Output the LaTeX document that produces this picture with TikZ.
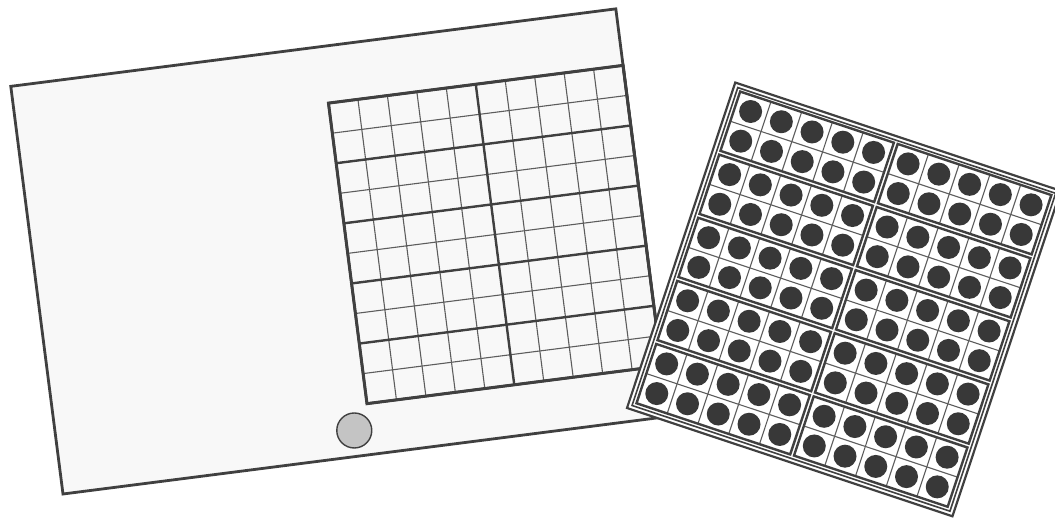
\documentclass[tikz,border=0pt]{standalone}
\usepackage{tikz}
\definecolor{cardwhite}{RGB}{248,248,248}
\definecolor{inkgrey}{RGB}{64,64,64}
\definecolor{dotgrey}{RGB}{56,56,56}
\definecolor{chipgrey}{RGB}{196,196,196}

\begin{document}
\begin{tikzpicture}[x=1pt, y=1pt,
    card/.style={fill=cardwhite, draw=inkgrey, line width=2.8pt},
    thinline/.style={draw=inkgrey!85, line width=1.1pt},
    frameline/.style={draw=inkgrey, line width=2.4pt},
    dot/.style={circle, fill=dotgrey, inner sep=0pt, minimum size=23pt}]

\useasboundingbox (0,0) rectangle (1055,-519);
\clip (0,0) rectangle (1055,-519);

% The empty work card with its ten by ten grid
\begin{scope}[shift={(63,-494)}, rotate=7.3]
  \draw[card] (0,0) rectangle (610,411);
  % thin cell lines
  \foreach \i in {1,...,9} {
    \draw[thinline] (313+\i*29.7, 51) -- (313+\i*29.7, 354);
    \draw[thinline] (313, 51+\i*30.3) -- (610, 51+\i*30.3);
  }
  % heavier lines round each ten-frame
  \foreach \j in {0,2,4,6,8,10}
    \draw[frameline] (313, 51+\j*30.3) -- (610, 51+\j*30.3);
  \foreach \i in {0,5,10}
    \draw[frameline] (313+\i*29.7, 51) -- (313+\i*29.7, 354);
  \draw[frameline, line width=3pt] (313,51) rectangle (610,354);
  % the single counter
  \node[circle, fill=chipgrey, draw=inkgrey, line width=1.4pt,
        minimum size=35pt] (chip) at (297,26) {};
\end{scope}

% The full board: ten ten-frames, every cell with a dot
\begin{scope}[shift={(627,-408)}, rotate=-18.4]
  \draw[fill=white, draw=inkgrey, line width=2.2pt] (0,0) rectangle (343,343);
  \draw[inkgrey, line width=1.6pt] (4,4) rectangle (339,339);
  \foreach \col in {0,1} {
    \foreach \row in {0,...,4} {
      \pgfmathsetmacro\fx{7.5+\col*166}
      \pgfmathsetmacro\fy{7.5+\row*66.5}
      \draw[thinline] (\fx, \fy+31.25) -- ++(162,0);
      \foreach \k in {1,...,4}
        \draw[thinline] (\fx+\k*32.4, \fy) -- ++(0,62.5);
      \draw[frameline] (\fx,\fy) rectangle ++(162,62.5);
      \foreach \k in {0,...,4} {
        \foreach \m in {0,1}
          \node[dot] (dot-\col-\row-\k-\m)
            at (\fx+\k*32.4+16.2, \fy+\m*31.25+15.6) {};
      }
    }
  }
\end{scope}

\end{tikzpicture}
\end{document}
